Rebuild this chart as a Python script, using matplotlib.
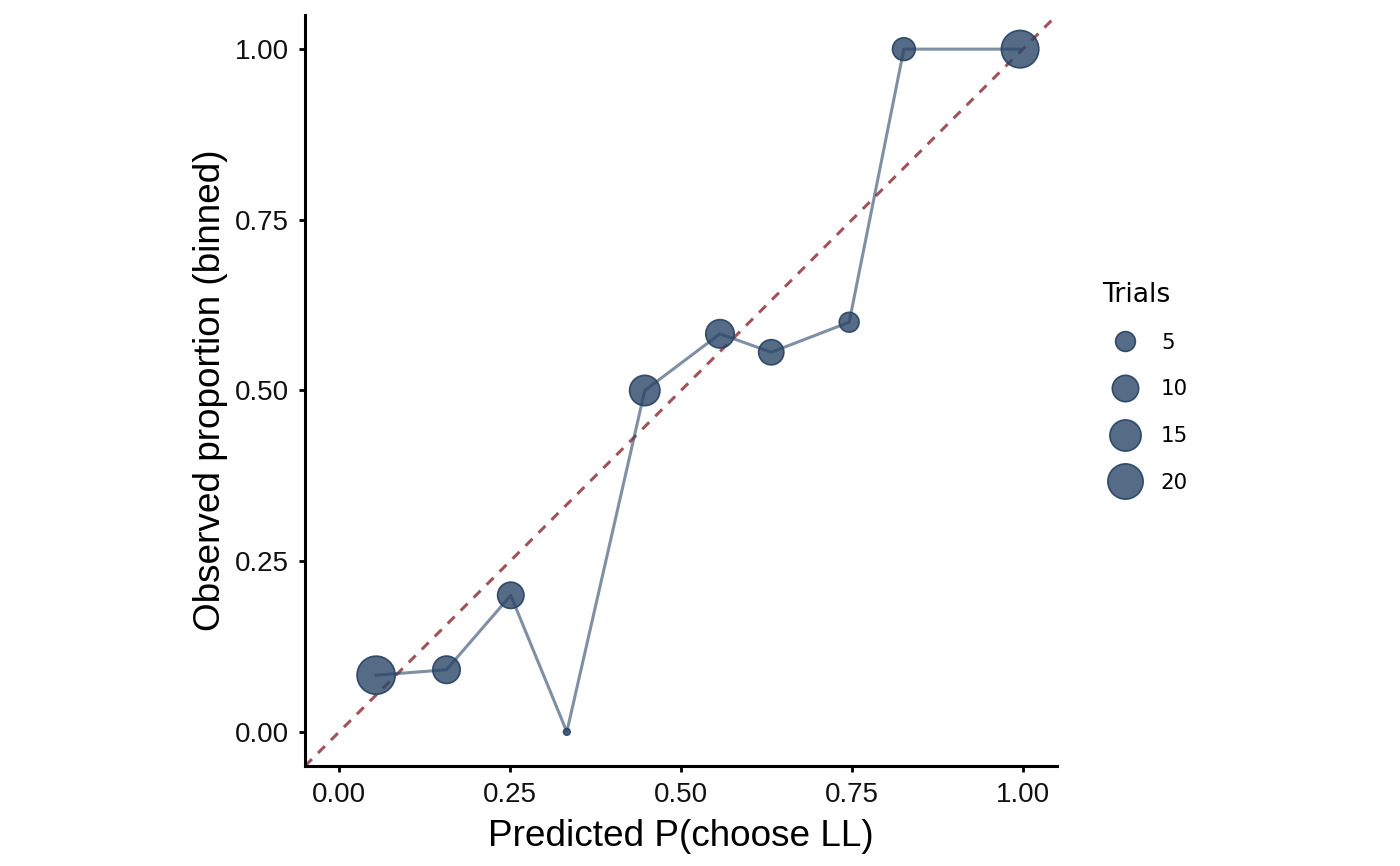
import numpy as np
import matplotlib
matplotlib.use('Agg')
import matplotlib.pyplot as plt
from matplotlib.lines import Line2D

# binned calibration data
pred_p = [0.054, 0.157, 0.251, 0.333, 0.447, 0.557, 0.632, 0.746, 0.826, 0.996]
obs_p = [0.083, 0.091, 0.200, 0.000, 0.500, 0.583, 0.556, 0.600, 1.000, 1.000]
trials = [24, 11, 10, 1, 14, 12, 9, 5, 7, 23]
legend_trials = [5, 10, 15, 20]

pt_face = (0.169, 0.275, 0.408, 0.80)
pt_edge = (0.150, 0.255, 0.385, 0.90)
line_col = (0.169, 0.275, 0.408, 0.60)
diag_col = '#a0545a'

n_min, n_max = min(trials), max(trials)


def diam_pt(n):
    # area scale like ggplot's scale_size (range 1..6), then to points
    s = 1 + 5 * np.sqrt((np.asarray(n, float) - n_min) / (n_max - n_min))
    return (6.3 * s + 2.0) * 72 / 200


fig = plt.figure(figsize=(7, 4.33), dpi=200)
ax = fig.add_axes([305 / 1400, 1 - 766 / 866, 752 / 1400, 751 / 866])

ax.axline((0, 0), slope=1, color=diag_col, lw=1.1, dashes=(3.2, 2.8), zorder=1)

ew = 0.6
ax.scatter(pred_p, obs_p, s=(diam_pt(trials) - ew) ** 2, facecolor=pt_face,
           edgecolor=pt_edge, linewidths=ew, zorder=2)
ax.plot(pred_p, obs_p, color=line_col, lw=1.1, zorder=3)

ax.set_xlim(-0.05, 1.05)
ax.set_ylim(-0.05, 1.05)
ticks = [0, 0.25, 0.5, 0.75, 1.0]
ax.set_xticks(ticks)
ax.set_yticks(ticks)
ax.set_xticklabels([f'{t:.2f}' for t in ticks])
ax.set_yticklabels([f'{t:.2f}' for t in ticks])

for side in ['top', 'right']:
    ax.spines[side].set_visible(False)
for side in ['left', 'bottom']:
    ax.spines[side].set_linewidth(1.1)
ax.tick_params(length=2.2, width=1.0, pad=3.5, labelsize=10,
               labelcolor='#111111')
for lab in ax.get_xticklabels() + ax.get_yticklabels():
    lab.set_family('Liberation Sans')

ax.set_xlabel('Predicted P(choose LL)', family='Liberation Sans',
              fontsize=13.3, labelpad=4)
ax.set_ylabel('Observed proportion (binned)', family='Liberation Sans',
              fontsize=13.3, labelpad=2.5)

# legend: title as its own text, keys below
fig.text(1102 / 1400, 1 - 295 / 866, 'Trials', family='DejaVu Sans',
         fontsize=9.6, va='center', ha='left')
handles = [Line2D([], [], ls='', marker='o', markersize=diam_pt(n) - ew,
                  markerfacecolor=pt_face, markeredgecolor=pt_edge,
                  markeredgewidth=ew) for n in legend_trials]
leg = fig.legend(handles, [str(n) for n in legend_trials],
                 loc='upper left', bbox_to_anchor=(1086 / 1400, 1 - 318 / 866),
                 frameon=False, fontsize=7.7, handleheight=0.7,
                 labelspacing=1.24, handlelength=2.2,
                 handletextpad=0.6, borderpad=0.2)
for t in leg.get_texts():
    t.set_family('DejaVu Sans')

fig.savefig('out.png', dpi=200)
